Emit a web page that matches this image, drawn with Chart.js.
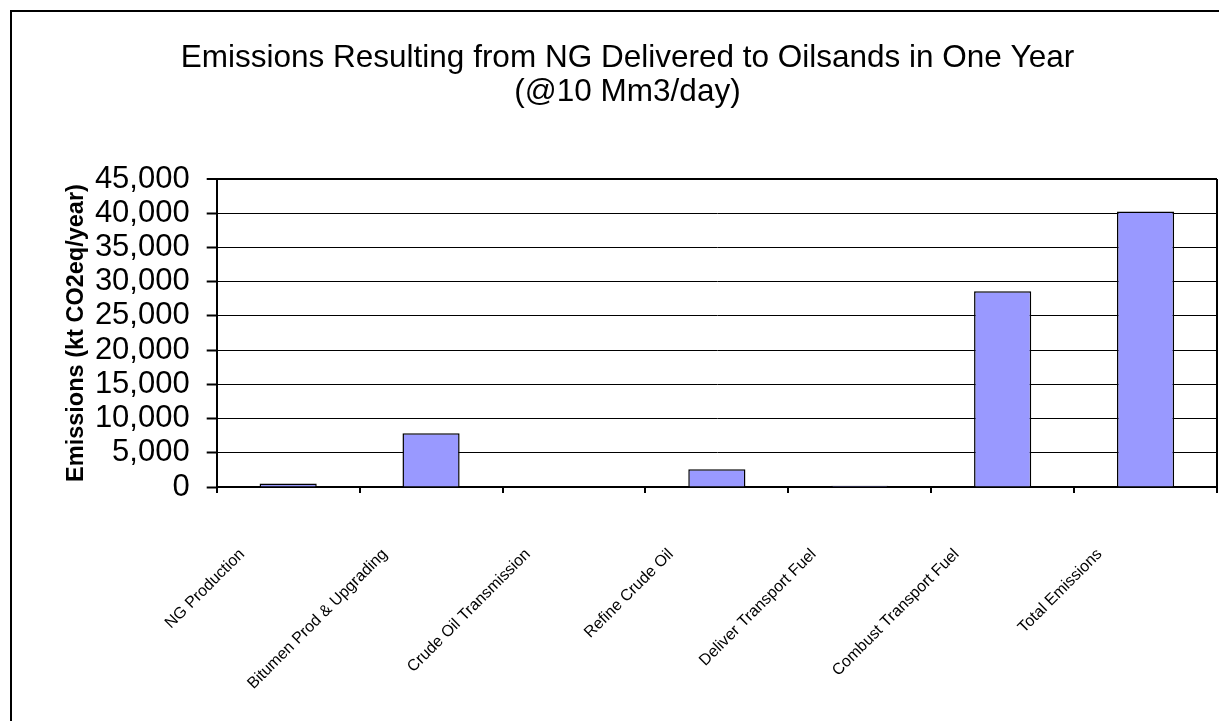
<!DOCTYPE html>
<html>
<head>
<meta charset="utf-8">
<script src="https://cdn.jsdelivr.net/npm/chart.js@4.4.1/dist/chart.umd.min.js"></script>
<style>
  html, body { margin: 0; padding: 0; background: #fff; }
  #wrap { width: 1219px; height: 721px; }
</style>
</head>
<body>
<div id="wrap"><canvas id="c" width="1219" height="721"></canvas></div>
<script>
// Emission stages and their yearly emissions (kt CO2eq/year)
const categories = [
  'NG Production',
  'Bitumen Prod & Upgrading',
  'Crude Oil Transmission',
  'Refine Crude Oil',
  'Deliver Transport Fuel',
  'Combust Transport Fuel',
  'Total Emissions'
];
const emissions = [500, 7850, 0, 2600, 200, 28600, 40250];
const yTicks = [0, 5000, 10000, 15000, 20000, 25000, 30000, 35000, 40000, 45000];
const titleLines = ['Emissions Resulting from NG Delivered to Oilsands in One Year', '(@10 Mm3/day)'];
const yAxisTitle = 'Emissions (kt CO2eq/year)';

const FONT = '"Liberation Sans", Arial, Helvetica, sans-serif';

// White page with the chart frame around it
const framePlugin = {
  id: 'frame',
  beforeDraw(chart) {
    const ctx = chart.ctx;
    ctx.save();
    ctx.fillStyle = '#fff';
    ctx.fillRect(0, 0, chart.width, chart.height);
    ctx.strokeStyle = '#000';
    ctx.lineWidth = 2;
    ctx.strokeRect(11, 11, chart.width + 20, chart.height + 20);
    ctx.restore();
  }
};

new Chart(document.getElementById('c'), {
  type: 'bar',
  data: {
    labels: categories,
    datasets: [{
      data: emissions,
      backgroundColor: '#9999FF',
      borderColor: '#000',
      borderWidth: 1.5,
      barPercentage: 0.4,
      categoryPercentage: 1.0
    }]
  },
  plugins: [framePlugin],
  options: {
    responsive: false,
    animation: false,
    devicePixelRatio: 1,
    layout: { padding: { left: 38, right: 2, top: 0, bottom: 0 } },
    plugins: {
      legend: { display: false },
      tooltip: { enabled: false },
      title: {
        display: true,
        text: titleLines,
        color: '#000',
        font: { family: FONT, size: 31.5, weight: 'normal', lineHeight: 1.08 },
        padding: { top: 41, bottom: 70 }
      }
    },
    scales: {
      x: {
        grid: {
          offset: true,
          drawOnChartArea: true,
          color: (c) => (c.type === 'scale' ? '#000' : 'rgba(0,0,0,0)'),
          lineWidth: 2,
          tickColor: '#000',
          tickWidth: 2,
          tickLength: 6
        },
        border: { display: true, color: '#000', width: 2 },
        ticks: {
          autoSkip: false,
          maxRotation: 45,
          minRotation: 45,
          color: '#000',
          font: { family: FONT, size: 16 },
          padding: 52,
          labelOffset: -46
        },
        afterFit(s) { s.height = 234; }
      },
      y: {
        min: yTicks[0],
        max: yTicks[yTicks.length - 1],
        afterBuildTicks(s) { s.ticks = yTicks.map(v => ({ value: v })); },
        grid: {
          color: '#000',
          lineWidth: (c) => (c.tick && c.tick.value === yTicks[yTicks.length - 1] ? 2 : 1),
          tickColor: '#000',
          tickWidth: 2,
          tickLength: 10
        },
        border: { display: true, color: '#000', width: 2 },
        ticks: {
          autoSkip: false,
          color: '#000',
          font: { family: FONT, size: 31 },
          padding: 17,
          callback: (v) => Number(v).toLocaleString('en-US')
        },
        title: {
          display: true,
          text: yAxisTitle,
          color: '#000',
          font: { family: FONT, size: 23.5, weight: 'bold' },
          padding: { top: 24, bottom: 0 }
        },
        afterFit(s) { s.width = 178.7; }
      }
    }
  }
});
</script>
</body>
</html>
